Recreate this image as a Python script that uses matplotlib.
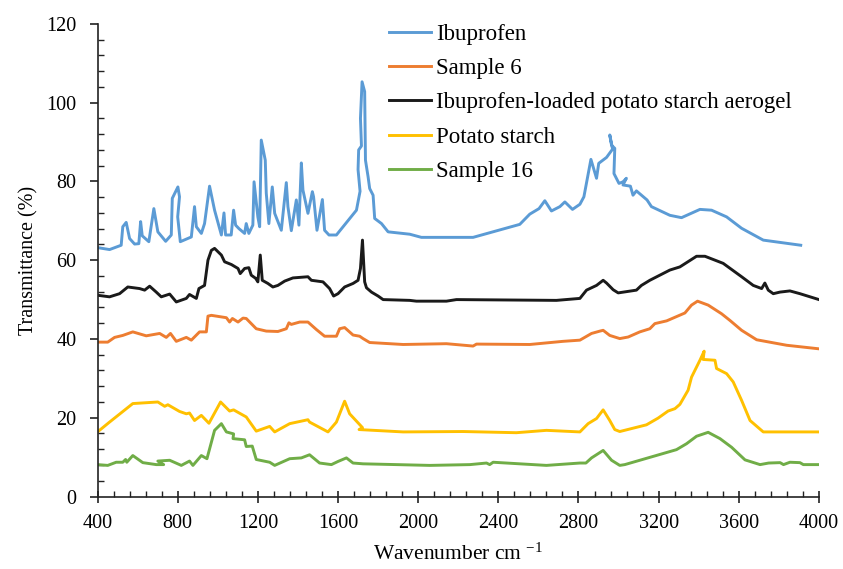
import matplotlib
matplotlib.use("Agg")
import matplotlib.pyplot as plt
from matplotlib.ticker import MultipleLocator

plt.rcParams['font.family'] = ['Liberation Serif', 'DejaVu Serif']
plt.rcParams['mathtext.fontset'] = 'custom'
plt.rcParams['mathtext.rm'] = 'Liberation Serif'
plt.rcParams['mathtext.it'] = 'Liberation Serif'

labels = ["Ibuprofen", "Sample 6", "Ibuprofen-loaded potato starch aerogel",
          "Potato starch", "Sample 16"]
colors = ["#5B9BD5", "#ED7D31", "#1A1A1A", "#FFC000", "#70AD47"]

ibu_x = [400, 460, 518, 526, 543, 560, 585, 606, 615, 623, 656, 681, 701, 740, 768, 773, 801, 809, 800, 813,
         868, 884, 893, 918, 934, 959, 984, 1018, 1031, 1039, 1067, 1079, 1089, 1106, 1134, 1142, 1155, 1175,
         1181, 1200, 1209, 1217, 1237, 1242, 1255, 1272, 1284, 1317, 1342, 1350, 1367, 1392, 1405, 1417, 1425,
         1450, 1472, 1478, 1495, 1522, 1533, 1555, 1592, 1692, 1710, 1700, 1703, 1717, 1712, 1720, 1733, 1737,
         1750, 1758, 1775, 1783, 1817, 1850, 1958, 2016, 2274, 2507, 2557, 2603, 2632, 2665, 2707, 2732, 2770,
         2807, 2827, 2862, 2890, 2901, 2940, 2970, 2956, 2965, 2981, 2977, 3002, 3022, 3039, 3022, 3059, 3072,
         3089, 3142, 3164, 3256, 3314, 3406, 3464, 3539, 3614, 3722, 3909]
ibu_y = [63.2, 62.7, 63.8, 68.5, 69.6, 65.5, 64.1, 64.2, 69.8, 66.2, 64.7, 73.1, 67.2, 64.8, 66.4, 75.7, 78.6, 76.1, 71.0, 64.7,
         65.9, 73.6, 68.5, 66.8, 69.3, 78.8, 72.7, 66.4, 72.0, 66.4, 66.4, 72.7, 68.9, 68.0, 66.8, 69.3, 66.8, 68.9,
         79.9, 71.0, 68.5, 90.5, 85.4, 77.0, 69.3, 78.6, 71.9, 67.6, 79.7, 73.6, 67.5, 75.3, 68.9, 84.7, 77.8,
         71.9, 77.4, 76.1, 67.6, 75.4, 67.6, 66.4, 66.4, 72.7, 77.5, 83.0, 88.0, 89.0, 96.0, 105.3, 102.8, 85.4,
         81.2, 78.2, 76.5, 70.6, 69.3, 67.2, 66.6, 65.8, 65.8, 69.1, 71.7, 73.1, 75.1, 72.5, 73.6, 74.8, 72.9,
         74.2, 76.1, 85.6, 80.8, 84.6, 86.1, 88.2, 91.8, 89.2, 88.4, 82.0, 79.5, 79.9, 80.8, 79.1, 78.8, 76.5,
         77.6, 75.3, 73.6, 71.4, 70.8, 72.9, 72.7, 71.0, 68.1, 65.1, 63.8]

s6_x = [400, 451, 485, 526, 576, 643, 710, 743, 764, 793, 843, 868, 909, 943, 951, 968, 1043, 1059, 1073, 1101,
        1126, 1142, 1192, 1242, 1300, 1342, 1355, 1367, 1409, 1450, 1492, 1533, 1592, 1608, 1633, 1675, 1708,
        1725, 1758, 1925, 2141, 2274, 2291, 2557, 2723, 2807, 2865, 2907, 2923, 2956, 3006, 3048, 3106, 3156,
        3181, 3240, 3331, 3364, 3394, 3447, 3514, 3556, 3614, 3689, 3839, 4000]
s6_y = [39.2, 39.2, 40.4, 40.9, 41.8, 40.8, 41.4, 40.4, 41.4, 39.4, 40.4, 39.7, 41.8, 41.8, 45.8, 46.0, 45.4, 44.3, 45.2, 44.3,
        45.3, 45.2, 42.6, 42.0, 41.9, 42.6, 44.1, 43.7, 44.3, 44.3, 42.4, 40.7, 40.7, 42.6, 42.9, 41.0, 40.7,
        40.1, 39.1, 38.6, 38.8, 38.2, 38.7, 38.6, 39.4, 39.7, 41.4, 42.0, 42.2, 40.9, 40.1, 40.5, 41.8, 42.6,
        43.9, 44.6, 46.6, 48.6, 49.6, 48.6, 46.4, 44.7, 42.2, 39.8, 38.4, 37.5]

aer_x = [400, 460, 510, 551, 610, 635, 660, 693, 718, 760, 793, 843, 859, 893, 906, 934, 951, 968, 984, 1018,
         1034, 1068, 1101, 1112, 1134, 1155, 1167, 1189, 1200, 1212, 1222, 1250, 1275, 1300, 1334, 1375, 1450,
         1467, 1525, 1558, 1578, 1600, 1633, 1675, 1700, 1712, 1722, 1733, 1742, 1767, 1800, 1825, 1958, 1991,
         2141, 2191, 2690, 2807, 2840, 2890, 2923, 2940, 2973, 2998, 3089, 3114, 3156, 3256, 3306, 3389, 3431,
         3522, 3614, 3672, 3714, 3730, 3747, 3772, 3805, 3855, 3905, 4000]
aer_y = [51.1, 50.7, 51.5, 53.2, 52.8, 52.4, 53.4, 51.9, 50.7, 51.4, 49.4, 50.3, 51.3, 50.3, 52.8, 53.6, 60.0, 62.5, 63.0, 61.3,
         59.6, 58.9, 57.9, 56.6, 57.9, 58.1, 56.2, 55.4, 54.5, 61.3, 54.9, 54.1, 53.2, 53.6, 54.7, 55.5, 55.8,
         54.9, 54.5, 52.8, 50.9, 51.5, 53.2, 54.1, 54.9, 57.9, 65.1, 54.5, 53.0, 51.9, 50.9, 50.0, 49.8, 49.6,
         49.6, 50.0, 49.8, 50.3, 52.4, 53.6, 54.9, 54.2, 52.5, 51.7, 52.4, 53.6, 54.9, 57.5, 58.3, 61.0, 61.0,
         59.2, 55.8, 53.6, 52.8, 54.2, 52.4, 51.5, 51.9, 52.2, 51.5, 50.0]

ps_x = [400, 460, 576, 701, 735, 751, 809, 843, 859, 884, 918, 956, 1014, 1059, 1079, 1142, 1192, 1259, 1284,
        1359, 1450, 1458, 1550, 1592, 1633, 1658, 1722, 1705, 1925, 2224, 2490, 2640, 2807, 2848, 2890, 2923,
        2956, 2981, 3006, 3139, 3197, 3247, 3281, 3306, 3347, 3364, 3406, 3427, 3422, 3481, 3489, 3539, 3572,
        3614, 3656, 3722, 4000]
ps_y = [16.4, 18.9, 23.6, 24.0, 22.9, 23.3, 21.6, 21.0, 21.2, 19.3, 20.6, 18.6, 24.0, 21.7, 22.0, 20.2, 16.6, 17.8, 16.4,
        18.5, 19.5, 18.9, 16.4, 18.9, 24.2, 21.0, 17.5, 17.0, 16.4, 16.5, 16.2, 16.8, 16.4, 18.5, 19.8, 22.0,
        19.3, 17.0, 16.5, 18.2, 19.9, 21.7, 22.3, 23.4, 27.0, 30.3, 34.6, 36.9, 34.8, 34.6, 32.5, 31.2, 29.1,
        24.4, 19.3, 16.4, 16.4]

s16_x = [400, 451, 493, 526, 540, 546, 576, 626, 693, 730, 701, 760, 818, 859, 876, 918, 946, 984, 1018, 1043,
         1079, 1076, 1134, 1142, 1172, 1192, 1259, 1284, 1359, 1417, 1458, 1508, 1567, 1600, 1642, 1675, 1725,
         2058, 2258, 2341, 2357, 2374, 2640, 2807, 2837, 2865, 2923, 2965, 3006, 3031, 3289, 3339, 3389, 3447,
         3506, 3564, 3631, 3706, 3749, 3806, 3823, 3855, 3905, 3922, 4000]
s16_y = [8.1, 7.9, 8.7, 8.7, 9.4, 8.7, 10.4, 8.6, 8.1, 8.1, 9.0, 9.2, 7.9, 9.0, 7.9, 10.4, 9.6, 16.8, 18.5, 16.4,
         15.9, 14.7, 14.4, 12.7, 12.8, 9.4, 8.7, 7.9, 9.6, 9.8, 10.6, 8.5, 8.1, 8.9, 9.8, 8.5, 8.3,
         7.9, 8.1, 8.5, 8.1, 8.7, 7.9, 8.5, 8.5, 9.8, 11.7, 9.2, 7.9, 8.1, 11.9, 13.4, 15.3, 16.3,
         14.7, 12.5, 9.3, 8.1, 8.5, 8.6, 8.1, 8.7, 8.6, 8.1, 8.1]

series = [(ibu_x, ibu_y), (s6_x, s6_y), (aer_x, aer_y), (ps_x, ps_y), (s16_x, s16_y)]

x_ticks = [400, 800, 1200, 1600, 2000, 2400, 2800, 3200, 3600, 4000]
y_ticks = [0, 20, 40, 60, 80, 100, 120]

fig = plt.figure(figsize=(8.43, 5.69), dpi=100)
ax = fig.add_axes([0.1157, 0.1274, 0.8558, 0.8306])

for (xs, ys), lab, col in zip(series, labels, colors):
    ax.plot(xs, ys, color=col, lw=2.1, label=lab, solid_joinstyle='round')

ax.set_xlim(400, 4000)
ax.set_ylim(0, 120)
ax.set_xticks(x_ticks)
ax.set_yticks(y_ticks)
ax.xaxis.set_minor_locator(MultipleLocator(80))
ax.yaxis.set_minor_locator(MultipleLocator(4))

for s in ['top', 'right']:
    ax.spines[s].set_visible(False)
for s in ['left', 'bottom']:
    ax.spines[s].set_linewidth(1.2)
    ax.spines[s].set_color('#222222')

ax.tick_params(axis='x', which='major', direction='inout', length=9, width=1.2, labelsize=14.5, pad=8, color='#222222')
ax.tick_params(axis='y', which='major', direction='out', length=6, width=1.2, labelsize=14.5, pad=9, color='#222222')
ax.tick_params(which='minor', direction='in', length=4, width=1.0, color='#222222')

ax.set_xlabel("Wavenumber cm $^{-1}$", fontsize=15.5, labelpad=8)
ax.set_ylabel("Transmittance (%)", fontsize=14.5, labelpad=6)

leg = ax.legend(loc='upper left', bbox_to_anchor=(0.391, 1.02), frameon=False, fontsize=16.5,
                handlelength=1.83, handletextpad=0.22, labelspacing=0.58, borderaxespad=0)

fig.savefig("out.png", dpi=100)
